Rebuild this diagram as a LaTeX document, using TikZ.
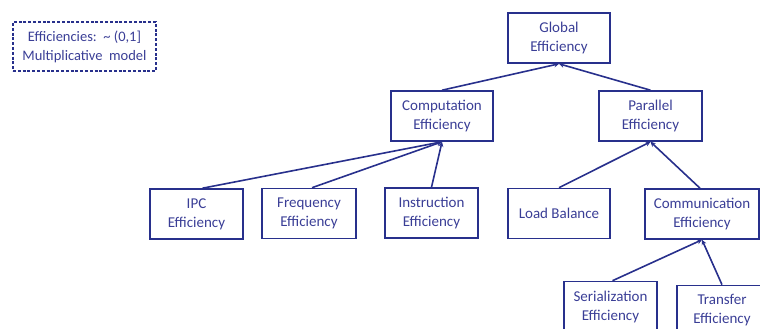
\documentclass[tikz,border=0pt]{standalone}
\usepackage{fontspec}
\setmainfont{Carlito}
\usetikzlibrary{arrows.meta}

\definecolor{boxblue}{RGB}{40,48,140}
\definecolor{txtblue}{RGB}{58,62,150}

\begin{document}
\begin{tikzpicture}[x=1pt, y=-1pt, line width=1.6pt,
        main/.style = {draw=boxblue, rectangle, align=center, text=txtblue, minimum height=50pt, inner sep=0pt, font=\fontsize{15}{19}\selectfont},
        note/.style = {main, line width=1.8pt, dash pattern=on 3pt off 1.8pt, minimum height=49pt, font=\fontsize{14.5}{19}\selectfont},
        link/.style = {draw=boxblue, -{Stealth[length=5pt,width=5pt]}}]
        \useasboundingbox (0,0) rectangle (760,329);
        \clip (0,0) rectangle (760,329);

        \node[note, minimum width=143pt] (n_note) at (84.5,46.5) {Efficiencies:\ \ \textasciitilde\ (0,1]\\Multiplicative\ \ model};

        \node[main, minimum width=102pt] (n_glob) at (559,38) {Global\\Efficiency};
        \node[main, minimum width=102pt] (n_comp) at (442,116) {Computation\\Efficiency};
        \node[main, minimum width=103pt] (n_par) at (650.5,116) {Parallel\\Efficiency};
        \node[main, minimum width=93pt] (n_ipc) at (196.5,214) {IPC\\Efficiency};
        \node[main, minimum width=94pt] (n_freq) at (309,213.5) {Frequency\\Efficiency};
        \node[main, minimum width=93pt] (n_instr) at (431.5,213) {Instruction\\Efficiency};
        \node[main, minimum width=102pt] (n_load) at (559,213.5) {Load Balance};
        \node[main, minimum width=114pt] (n_comm) at (702,214) {Communication\\Efficiency};
        \node[main, minimum width=93pt] (n_ser) at (610.5,306.5) {Serialization\\Efficiency};
        \node[main, minimum width=90pt] (n_trans) at (722,310.5) {Transfer\\Efficiency};

        \draw[link] (n_comp.north) -- (n_glob.south);
        \draw[link] (n_par.north) -- (n_glob.south);
        \draw[link] ([xshift=6pt]n_ipc.north) -- (n_comp.south);
        \draw[link] ([xshift=3pt]n_freq.north) -- (n_comp.south);
        \draw[link] (n_instr.north) -- (n_comp.south);
        \draw[link] (n_load.north) -- (n_par.south);
        \draw[link] ([xshift=-2pt]n_comm.north) -- (n_par.south);
        \draw[link] ([xshift=2pt]n_ser.north) -- (n_comm.south);
        \draw[link] (n_trans.north) -- (n_comm.south);
    \end{tikzpicture}
\end{document}
